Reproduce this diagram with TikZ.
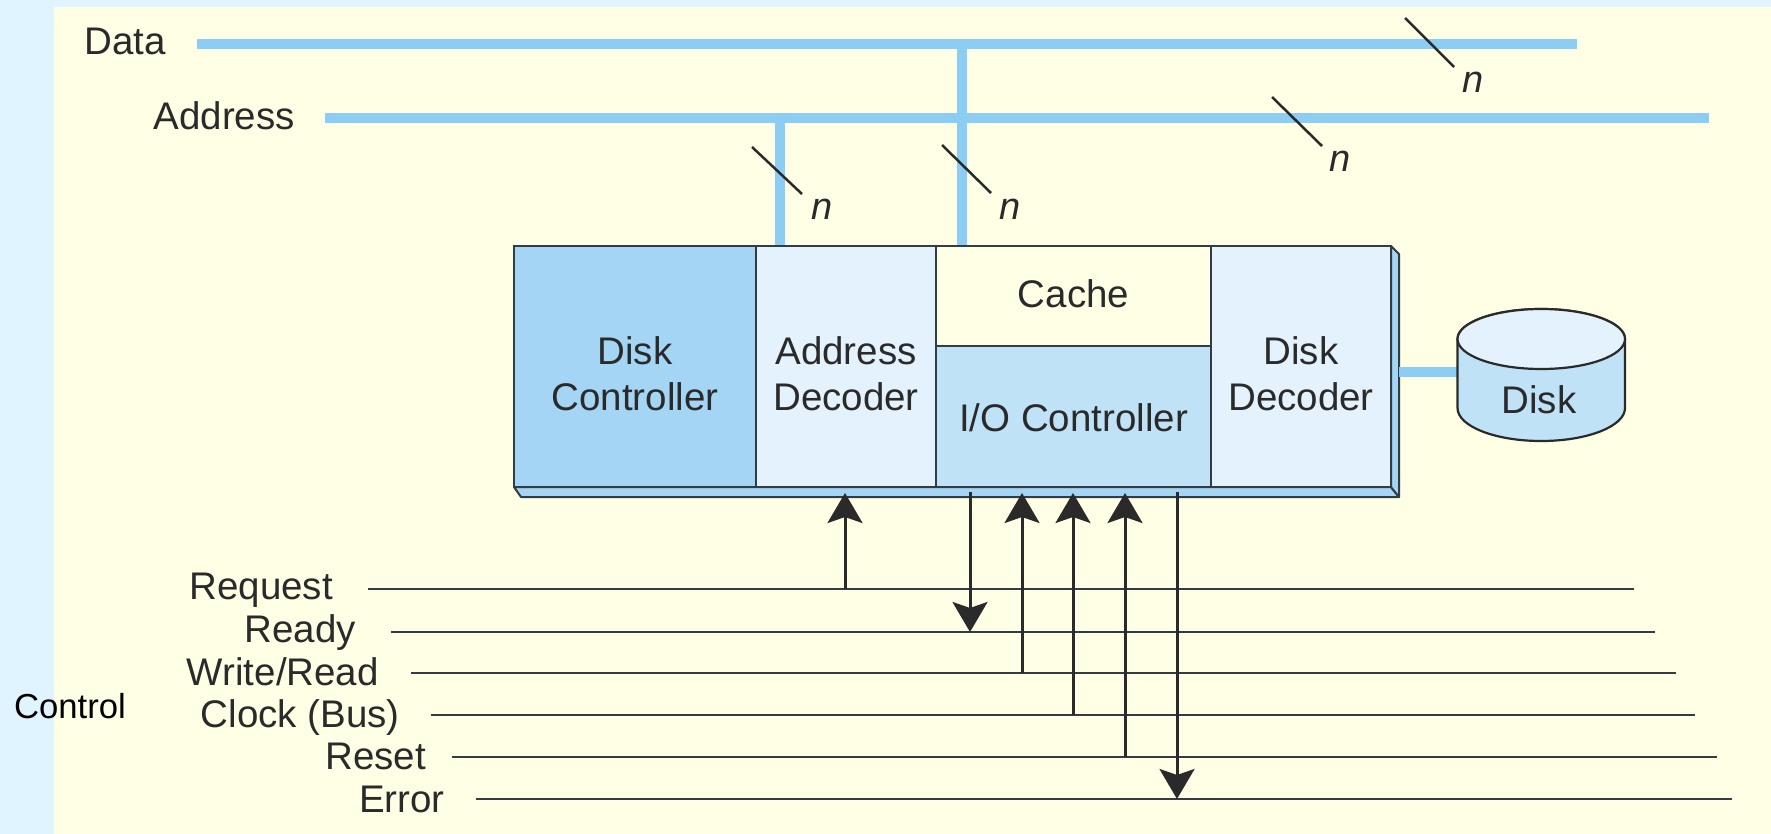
\documentclass[tikz,border=0pt]{standalone}
\usepackage{fontspec}
\setmainfont{Liberation Sans}
\usetikzlibrary{arrows.meta,calc}
\definecolor{outerbg}{HTML}{E0F4FF}
\definecolor{innerbg}{HTML}{FFFFE6}
\definecolor{busblue}{HTML}{8CCDF3}
\definecolor{ctrlblue}{HTML}{A4D5F5}
\definecolor{palebox}{HTML}{E3F2FC}
\definecolor{midbox}{HTML}{C0E2F6}
\definecolor{ink}{HTML}{2A2A2A}
\definecolor{edgeink}{HTML}{333C42}
\tikzset{
  x=1pt,y=-1pt,
  lbl/.style={font=\fontsize{38.5}{46}\selectfont,text=ink,inner sep=0pt,anchor=base east},
  nlbl/.style={font=\fontsize{38}{46}\selectfont\itshape,text=ink,inner sep=0pt,anchor=base},
  unit/.style={draw=edgeink,line width=2pt,inner sep=0pt,align=center,
    font=\fontsize{38.5}{46}\selectfont,text=ink},
  bus/.style={busblue,line width=10pt},
  slash/.style={draw=ink,line width=2.5pt},
  ctrl/.style={draw=edgeink,line width=2.2pt},
  sig/.style={draw=ink,line width=3pt,-{Stealth[length=30pt,width=35pt,inset=6pt]}},
  side/.style={draw=edgeink,line width=2pt,fill=ctrlblue,line join=round}
}
\begin{document}
\begin{tikzpicture}
\useasboundingbox (0,0) rectangle (1771,834);
\fill[outerbg] (0,0) rectangle (1771,834);
\fill[innerbg] (54,7) rectangle (1771,834);

% bus labels and bus ends
\node[lbl] (datal) at (166,55) {Data};
\node[lbl] (addrl) at (295,130) {Address};
\coordinate (dbusl) at (197,44);
\coordinate (dbusr) at (1577,44);
\coordinate (abusl) at (325,118);
\coordinate (abusr) at (1709,118);
\coordinate (dtap) at (962,44);
\coordinate (atap) at (780,118);

% side faces of the box
\draw[side] (514,487) -- (521,497) -- (1399,497) -- (1391,487) -- cycle;
\draw[side] (1391,246) -- (1399,254) -- (1399,497) -- (1391,487) -- cycle;

% units
\node[unit,fill=ctrlblue,minimum width=242pt,minimum height=241pt] (dc) at (635,366.5) {\rule{0pt}{42pt}Disk\\Controller};
\node[unit,fill=palebox,minimum width=180pt,minimum height=241pt] (ad) at (846,366.5) {\rule{0pt}{42pt}Address\\Decoder};
\node[unit,fill=innerbg,minimum width=275pt,minimum height=100pt] (cache) at (1073.5,296) {Cache\rule[-5pt]{0pt}{5pt}};
\node[unit,fill=midbox,minimum width=275pt,minimum height=141pt] (io) at (1073.5,416.5) {\rule{0pt}{31pt}I/O Controller};
\node[unit,fill=palebox,minimum width=180pt,minimum height=241pt] (dd) at (1301,366.5) {\rule{0pt}{42pt}Disk\\Decoder};

% buses
\draw[bus] (dbusl) -- (dbusr);
\draw[bus] (abusl) -- (abusr);
\draw[bus] (dtap) -- (dtap |- cache.north);
\draw[bus] (atap) -- (atap |- ad.north);

% disk
\coordinate (ddport) at (1399,372);
\coordinate (dkport) at (1458,372);
\draw[bus] (ddport) -- (dkport);
\draw[draw=ink,line width=2.2pt,fill=midbox] (1457.5,339) -- (1457.5,408)
  arc[start angle=180,end angle=360,x radius=83.75,y radius=-33] -- (1625,339)
  arc[start angle=0,end angle=180,x radius=83.75,y radius=-30] -- cycle;
\draw[draw=ink,line width=2.2pt,fill=palebox] (1541.25,339) ellipse[x radius=83.75,y radius=30];
\node[font=\fontsize{38.5}{46}\selectfont,text=ink,inner sep=0pt,anchor=base] (disk) at (1539,413) {Disk};

% width slashes
\coordinate (s1a) at (1405,18); \coordinate (s1b) at (1454,67);
\coordinate (s2a) at (1272,97); \coordinate (s2b) at (1322,146);
\coordinate (s3a) at (752,147); \coordinate (s3b) at (802,194);
\coordinate (s4a) at (942,145); \coordinate (s4b) at (991,193);
\draw[slash] (s1a) -- (s1b);
\draw[slash] (s2a) -- (s2b);
\draw[slash] (s3a) -- (s3b);
\draw[slash] (s4a) -- (s4b);
\node[nlbl] (n1) at (1473,93) {n};
\node[nlbl] (n2) at (1340,172) {n};
\node[nlbl] (n3) at (822,220) {n};
\node[nlbl] (n4) at (1010,220) {n};

% control labels
\node[font=\fontsize{34.7}{40}\selectfont,text=black,inner sep=0pt,anchor=base] (ctl) at (70,718) {Control};
\node[lbl] (lreq) at (333,599) {Request};
\node[lbl] (lrdy) at (356,642) {Ready};
\node[lbl] (lwr) at (379,685) {Write/Read};
\node[lbl] (lclk) at (400,727) {Clock (Bus)};
\node[lbl] (lrst) at (426,769) {Reset};
\node[lbl] (lerr) at (445,812) {Error};

% control lines
\coordinate (reqa) at (368,589);  \coordinate (reqb) at (1634,589);
\coordinate (rdya) at (391,632);  \coordinate (rdyb) at (1655,632);
\coordinate (wra) at (411,673);   \coordinate (wrb) at (1676,673);
\coordinate (clka) at (431,715);  \coordinate (clkb) at (1695,715);
\coordinate (rsta) at (452,757);  \coordinate (rstb) at (1717,757);
\coordinate (erra) at (476,799);  \coordinate (errb) at (1732,799);
\draw[ctrl] (reqa) -- (reqb);
\draw[ctrl] (rdya) -- (rdyb);
\draw[ctrl] (wra) -- (wrb);
\draw[ctrl] (clka) -- (clkb);
\draw[ctrl] (rsta) -- (rstb);
\draw[ctrl] (erra) -- (errb);

% signal arrows
\coordinate (top1) at (845,493);
\coordinate (top2) at (970,492);
\coordinate (top3) at (1022,493);
\coordinate (top4) at (1073,493);
\coordinate (top5) at (1125,493);
\coordinate (top6) at (1177,492);
\draw[sig] (top1 |- reqa) -- (top1);
\draw[sig] (top2) -- (top2 |- rdya);
\draw[sig] (top3 |- wra) -- (top3);
\draw[sig] (top4 |- clka) -- (top4);
\draw[sig] (top5 |- rsta) -- (top5);
\draw[sig] (top6) -- (top6 |- erra);
\end{tikzpicture}
\end{document}
